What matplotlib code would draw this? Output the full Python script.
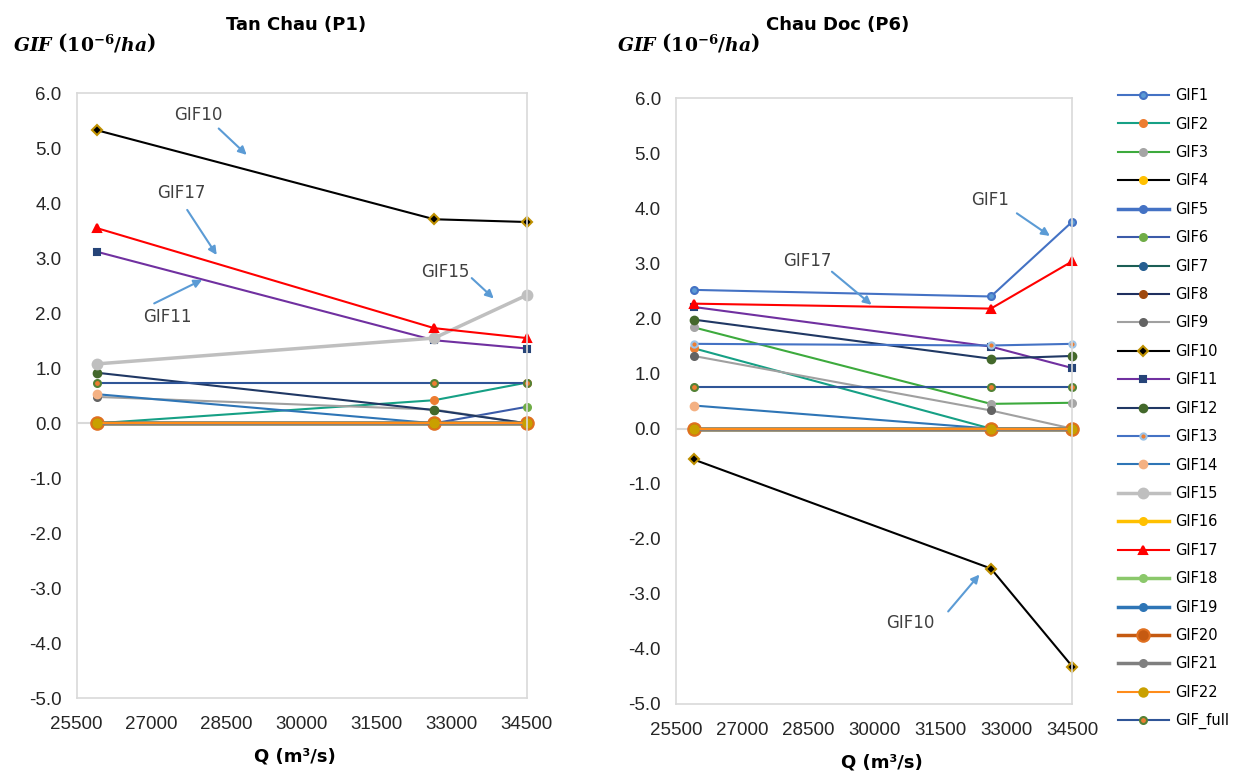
import matplotlib
matplotlib.use("Agg")
import matplotlib.pyplot as plt
from matplotlib.ticker import FixedLocator, FormatStrFormatter

# discharge values of the three simulated scenarios
Q = [25900, 32650, 34500]
X_TICKS = [25500, 27000, 28500, 30000, 31500, 33000, 34500]
Y_TICKS = [-5, -4, -3, -2, -1, 0, 1, 2, 3, 4, 5, 6]

SERIES = ["GIF1", "GIF2", "GIF3", "GIF4", "GIF5", "GIF6", "GIF7", "GIF8",
          "GIF9", "GIF10", "GIF11", "GIF12", "GIF13", "GIF14", "GIF15",
          "GIF16", "GIF17", "GIF18", "GIF19", "GIF20", "GIF21", "GIF22",
          "GIF_full"]

# GIF (1e-6/ha) at Tan Chau (P1), one row per series in SERIES order
TAN_CHAU = [
    [0.00, 0.00, 0.00],  # GIF1
    [0.00, 0.42, 0.74],  # GIF2
    [0.00, 0.00, 0.00],  # GIF3
    [0.00, 0.00, 0.00],  # GIF4
    [0.00, 0.00, 0.00],  # GIF5
    [0.00, 0.00, 0.30],  # GIF6
    [0.00, 0.00, 0.00],  # GIF7
    [0.00, 0.00, 0.00],  # GIF8
    [0.48, 0.25, 0.00],  # GIF9
    [5.33, 3.71, 3.66],  # GIF10
    [3.12, 1.51, 1.36],  # GIF11
    [0.92, 0.24, 0.00],  # GIF12
    [0.00, 0.00, 0.00],  # GIF13
    [0.53, 0.00, 0.00],  # GIF14
    [1.08, 1.55, 2.33],  # GIF15
    [0.00, 0.00, 0.00],  # GIF16
    [3.55, 1.73, 1.55],  # GIF17
    [0.00, 0.00, 0.00],  # GIF18
    [0.00, 0.00, 0.00],  # GIF19
    [0.00, 0.00, 0.00],  # GIF20
    [0.00, 0.00, 0.00],  # GIF21
    [0.00, 0.00, 0.00],  # GIF22
    [0.74, 0.74, 0.74],  # GIF_full
]

# GIF (1e-6/ha) at Chau Doc (P6)
CHAU_DOC = [
    [2.52, 2.40, 3.76],  # GIF1
    [1.46, 0.00, 0.00],  # GIF2
    [1.84, 0.45, 0.47],  # GIF3
    [0.00, 0.00, 0.00],  # GIF4
    [0.00, 0.00, 0.00],  # GIF5
    [0.00, 0.00, 0.00],  # GIF6
    [0.00, 0.00, 0.00],  # GIF7
    [0.00, 0.00, 0.00],  # GIF8
    [1.32, 0.33, 0.00],  # GIF9
    [-0.56, -2.54, -4.32],  # GIF10
    [2.21, 1.49, 1.10],  # GIF11
    [1.98, 1.27, 1.32],  # GIF12
    [1.54, 1.51, 1.54],  # GIF13
    [0.42, 0.00, 0.00],  # GIF14
    [0.00, 0.00, 0.00],  # GIF15
    [0.00, 0.00, 0.00],  # GIF16
    [2.27, 2.18, 3.04],  # GIF17
    [0.00, 0.00, 0.00],  # GIF18
    [0.00, 0.00, 0.00],  # GIF19
    [0.00, 0.00, 0.00],  # GIF20
    [0.00, 0.00, 0.00],  # GIF21
    [0.00, 0.00, 0.00],  # GIF22
    [0.76, 0.76, 0.76],  # GIF_full
]

# line colour, line width, marker, marker face, marker edge, marker size
_STYLE = {
    "GIF1": ("#4472C4", 1.5, "o", "#5B9BD5", "#4472C4", 5),
    "GIF2": ("#16A085", 1.5, "o", "#ED7D31", "#ED7D31", 5),
    "GIF3": ("#3DAA3D", 1.5, "o", "#A5A5A5", "#A5A5A5", 5),
    "GIF4": ("#000000", 1.5, "o", "#FFC000", "#FFC000", 5),
    "GIF5": ("#4472C4", 2.5, "o", "#4472C4", "#4472C4", 5),
    "GIF6": ("#3B5BA9", 1.5, "o", "#70AD47", "#70AD47", 5),
    "GIF7": ("#1B5E55", 1.5, "o", "#255E91", "#255E91", 5),
    "GIF8": ("#1F2F5F", 1.5, "o", "#9E480E", "#9E480E", 5),
    "GIF9": ("#A0A0A0", 1.5, "o", "#636363", "#636363", 5),
    "GIF10": ("#000000", 1.5, "D", "#000000", "#BF9000", 5),
    "GIF11": ("#7030A0", 1.5, "s", "#264478", "#264478", 5),
    "GIF12": ("#203864", 1.5, "o", "#43682B", "#43682B", 5.5),
    "GIF13": ("#4472C4", 1.5, "o", "#ED7D31", "#9DC3E6", 4.5),
    "GIF14": ("#2E75B6", 1.5, "o", "#F4B183", "#F4B183", 5.5),
    "GIF15": ("#BFBFBF", 2.5, "o", "#BFBFBF", "#BFBFBF", 7),
    "GIF16": ("#FFC000", 2.5, "o", "#FFC000", "#FFC000", 5),
    "GIF17": ("#FF0000", 1.5, "^", "#FF0000", "#FF0000", 6),
    "GIF18": ("#8BC86B", 2.5, "o", "#8BC86B", "#8BC86B", 5),
    "GIF19": ("#2E75B6", 2.5, "o", "#2E75B6", "#2E75B6", 5),
    "GIF20": ("#C55A11", 2.5, "o", "#C55A11", "#E07020", 9),
    "GIF21": ("#7F7F7F", 2.5, "o", "#7F7F7F", "#7F7F7F", 5),
    "GIF22": ("#FF8C1A", 1.5, "o", "#C9A000", "#C9A000", 6),
    "GIF_full": ("#2F5597", 1.5, "o", "#ED7D31", "#548235", 5),
}

_ARROW = "#5B9BD5"
_TEXT = "#404040"

plt.rcParams["mathtext.fontset"] = "custom"
plt.rcParams["mathtext.rm"] = "DejaVu Serif:bold"
plt.rcParams["mathtext.it"] = "DejaVu Serif:italic:bold"
plt.rcParams["mathtext.bf"] = "DejaVu Serif:bold"

fig = plt.figure(figsize=(12.35, 7.73), dpi=100)
ax1 = fig.add_axes([0.0621, 0.0966, 0.3644, 0.7827])
ax2 = fig.add_axes([0.5474, 0.0893, 0.3209, 0.7836])


def draw_site(ax, rows):
    for name, vals in zip(SERIES, rows):
        c, lw, m, mf, me, ms = _STYLE[name]
        ax.plot(Q, vals, color=c, lw=lw, marker=m, markerfacecolor=mf,
                markeredgecolor=me, markersize=ms, markeredgewidth=1.5,
                label=name, clip_on=False)
    ax.axhline(0, color="#D9D9D9", lw=1.5, zorder=0.5)
    ax.set_xlim(25500, 34500)
    ax.set_ylim(-5, 6)
    ax.xaxis.set_major_locator(FixedLocator(X_TICKS))
    ax.yaxis.set_major_locator(FixedLocator(Y_TICKS))
    ax.yaxis.set_major_formatter(FormatStrFormatter("%.1f"))
    ax.tick_params(length=0, labelsize=13.5, colors="#262626")
    ax.tick_params(axis="y", pad=11)
    ax.tick_params(axis="x", pad=13)
    for lab in ax.get_xticklabels() + ax.get_yticklabels():
        lab.set_family("Liberation Sans")
    for sp in ax.spines.values():
        sp.set_color("#D9D9D9")
        sp.set_linewidth(1.2)


def callout(ax, label, text_xy, tail, head):
    ax.text(*text_xy, label, fontsize=12, color=_TEXT, ha="center", va="center")
    ax.annotate("", xy=head, xytext=tail,
                arrowprops=dict(arrowstyle="-|>", color=_ARROW, lw=1.5,
                                mutation_scale=12, shrinkA=0, shrinkB=0))


draw_site(ax1, TAN_CHAU)
draw_site(ax2, CHAU_DOC)

callout(ax1, "GIF10", (27940, 5.61), (28340, 5.36), (28900, 4.88))
callout(ax1, "GIF17", (27600, 4.18), (27710, 3.88), (28300, 3.06))
callout(ax1, "GIF11", (27310, 1.94), (27050, 2.18), (28010, 2.61))
callout(ax1, "GIF15", (32880, 2.76), (33400, 2.64), (33840, 2.27))

callout(ax2, "GIF1", (32630, 4.16), (33240, 3.91), (33990, 3.50))
callout(ax2, "GIF17", (28470, 3.04), (29040, 2.85), (29940, 2.25))
callout(ax2, "GIF10", (30810, -3.53), (31680, -3.32), (32390, -2.65))

ylab = r"$GIF\ \left(10^{-6}/ha\right)$"
fig.text(0.0105, 0.944, ylab, fontsize=13.5, ha="left", va="center")
fig.text(0.4995, 0.944, ylab, fontsize=13.5, ha="left", va="center")

fig.text(0.2397, 0.968, "Tan Chau (P1)", fontsize=13, fontweight="bold",
         ha="center", va="center")
fig.text(0.6785, 0.968, "Chau Doc (P6)", fontsize=13, fontweight="bold",
         ha="center", va="center")

fig.text(0.2389, 0.021, "Q (m³/s)", fontsize=13, fontweight="bold",
         ha="center", va="center")
fig.text(0.7142, 0.014, "Q (m³/s)", fontsize=13, fontweight="bold",
         ha="center", va="center")

handles, labels = ax1.get_legend_handles_labels()
fig.legend(handles, labels, loc="upper left", bbox_to_anchor=(0.905, 0.886),
           frameon=False, fontsize=10.5, handlelength=3.5, handletextpad=0.45,
           labelspacing=0.92, borderpad=0, borderaxespad=0)

fig.savefig("out.png", dpi=100)
